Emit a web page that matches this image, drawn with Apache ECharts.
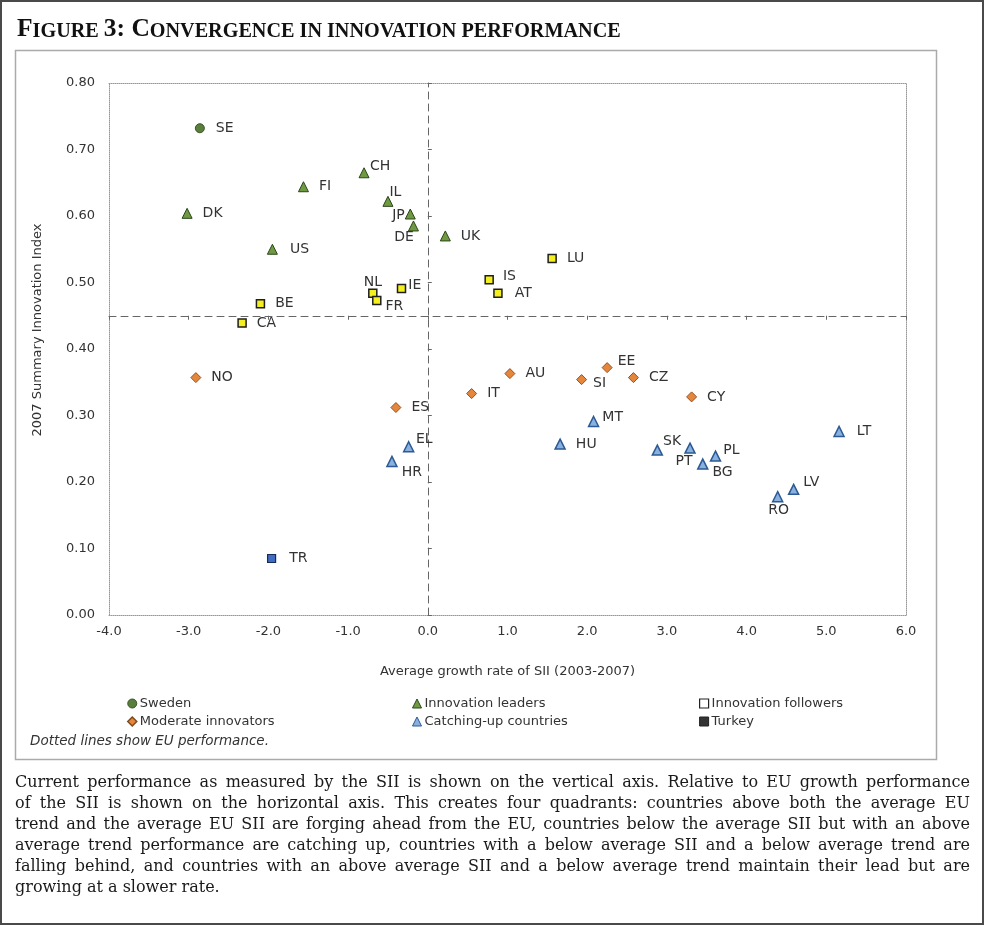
<!DOCTYPE html>
<html>
<head>
<meta charset="utf-8">
<script src="https://cdn.jsdelivr.net/npm/echarts@6/dist/echarts.min.js"></script>
<style>
html,body{margin:0;padding:0;background:#fff;}
#chart{width:984px;height:925px;}
</style>
</head>
<body>
<div id="chart"></div>
<script>
// ---------- DATA ----------
const xAxisName = 'Average growth rate of SII (2003-2007)';
const yAxisName = '2007 Summary Innovation Index';
const xTicks = [-4, -3, -2, -1, 0, 1, 2, 3, 4, 5, 6];
const yTicks = [0, 0.1, 0.2, 0.3, 0.4, 0.5, 0.6, 0.7, 0.8];
const euGrowth = 0.0;
const euSII = 0.45;

const swedenNames = ['SE'];
const swedenGrowth = [-2.86];
const swedenSII = [0.732];

const leaderNames = ['DK', 'FI', 'CH', 'IL', 'JP', 'DE', 'US', 'UK'];
const leaderGrowth = [-3.02, -1.56, -0.80, -0.50, -0.22, -0.18, -1.95, 0.22];
const leaderSII = [0.604, 0.644, 0.665, 0.622, 0.603, 0.585, 0.550, 0.570];

const followerNames = ['NL', 'FR', 'IE', 'BE', 'CA', 'LU', 'IS', 'AT'];
const followerGrowth = [-0.69, -0.64, -0.33, -2.10, -2.33, 1.56, 0.77, 0.88];
const followerSII = [0.484, 0.473, 0.491, 0.468, 0.439, 0.536, 0.504, 0.484];

const moderateNames = ['NO', 'ES', 'IT', 'AU', 'SI', 'EE', 'CZ', 'CY'];
const moderateGrowth = [-2.91, -0.40, 0.55, 1.03, 1.93, 2.25, 2.58, 3.31];
const moderateSII = [0.357, 0.312, 0.333, 0.363, 0.354, 0.372, 0.357, 0.328];

const catchingNames = ['EL', 'HR', 'MT', 'HU', 'SK', 'PT', 'BG', 'PL', 'LT', 'LV', 'RO'];
const catchingGrowth = [-0.24, -0.45, 2.08, 1.66, 2.88, 3.29, 3.45, 3.61, 5.16, 4.59, 4.39];
const catchingSII = [0.253, 0.231, 0.291, 0.257, 0.248, 0.251, 0.227, 0.239, 0.276, 0.189, 0.178];

const turkeyNames = ['TR'];
const turkeyGrowth = [-1.96];
const turkeySII = [0.085];

const legendNames = ['Sweden', 'Moderate innovators', 'Innovation leaders', 'Catching-up countries', 'Innovation followers', 'Turkey'];

const noteText = 'Dotted lines show EU performance.';
const paragraphLines = [
  'Current performance as measured by the SII is shown on the vertical axis. Relative to EU growth performance',
  'of the SII is shown on the horizontal axis. This creates four quadrants: countries above both the average EU',
  'trend and the average EU SII are forging ahead from the EU, countries below the average SII but with an above',
  'average trend performance are catching up, countries with a below average SII and a below average trend are',
  'falling behind, and countries with an above average SII and a below average trend maintain their lead but are',
  'growing at a slower rate.'
];

// ---------- STYLE ----------
const SANS = '"DejaVu Sans", "Liberation Sans", Arial, sans-serif';
const SERIF = '"DejaVu Serif", "Liberation Serif", serif';
const TXT = '#333';

// per-label placement tweaks (style only)
const labelTweaks = {
  CH: {distance: 0.5, offset: [0, -6]},
  IL: {distance: 0, offset: [-4, -9]},
  JP: {position: 'left', distance: 0, offset: [0, 1]},
  DE: {position: 'left', distance: 0, offset: [6, 11]},
  NL: {position: 'top', distance: 0, offset: [0, 1]},
  FR: {distance: 4, offset: [0, 6]},
  IE: {distance: 2, offset: [0, -3]},
  IS: {distance: 9, offset: [0, -3]},
  AT: {distance: 12, offset: [0, 0]},
  SI: {distance: 6, offset: [0, 4]},
  EE: {distance: 5, offset: [0, -6]},
  EL: {distance: 1.5, offset: [0, -7]},
  HR: {distance: 4, offset: [0, 11]},
  MT: {distance: 3, offset: [0, -4]},
  SK: {distance: 0, offset: [0, -9]},
  PT: {position: 'bottom', distance: 1, offset: [-6, 0]},
  BG: {distance: 4, offset: [0, 8]},
  PL: {distance: 2, offset: [0, -6]},
  LV: {distance: 4, offset: [0, -7]},
  RO: {position: 'bottom', distance: 1, offset: [1, 0]},
  TR: {distance: 13},
  SE: {distance: 11},
  US: {distance: 12},
  LT: {distance: 12}
};

function buildData(names, xs, ys) {
  return names.map((n, i) => {
    const t = labelTweaks[n] || {};
    return {
      name: n,
      value: [xs[i], ys[i]],
      label: {
        position: t.position || 'right',
        distance: t.distance !== undefined ? t.distance : 10,
        offset: t.offset || [0, 0]
      }
    };
  });
}

const baseLabel = {
  show: true,
  formatter: p => p.name,
  fontFamily: SANS,
  fontSize: 14,
  color: TXT
};

function scatter(name, names, xs, ys, symbol, size, fill, border, bw) {
  return {
    name: name,
    type: 'scatter',
    xAxisIndex: 0,
    yAxisIndex: 0,
    symbol: symbol,
    symbolSize: size,
    itemStyle: {color: fill, borderColor: border, borderWidth: bw, opacity: 1},
    label: baseLabel,
    emphasis: {disabled: true},
    data: buildData(names, xs, ys),
    z: 5
  };
}

const series = [
  scatter('Sweden', swedenNames, swedenGrowth, swedenSII, 'circle', 9, '#5a7f3c', '#3a5526', 1),
  scatter('Innovation leaders', leaderNames, leaderGrowth, leaderSII, 'triangle', 10, '#6f9a42', '#2c461a', 1),
  scatter('Innovation followers', followerNames, followerGrowth, followerSII, 'rect', 8, '#f4ef1e', '#1e1e1e', 1.5),
  scatter('Moderate innovators', moderateNames, moderateGrowth, moderateSII, 'diamond', 10, '#e4873c', '#99501e', 1),
  scatter('Catching-up countries', catchingNames, catchingGrowth, catchingSII, 'triangle', 10, '#88b1e0', '#2c5994', 1.5),
  scatter('Turkey', turkeyNames, turkeyGrowth, turkeySII, 'rect', 8, '#3e6dc4', '#1a2a55', 1.2)
];

const euLine = {show: true, onZero: false, lineStyle: {color: '#666', width: 1, type: [7, 5]}};
const xMin = xTicks[0], xMax = xTicks[xTicks.length - 1];
const yMin = yTicks[0], yMax = yTicks[yTicks.length - 1];

function legendCol(left, names, styles) {
  return {
    orient: 'vertical',
    left: left,
    top: 692,
    itemGap: 5,
    itemWidth: 9,
    itemHeight: 9,
    selectedMode: false,
    textStyle: {fontFamily: SANS, fontSize: 13, color: TXT, padding: [0, 0, 0, -2]},
    data: names.map((n, i) => ({name: n, itemStyle: styles[i]}))
  };
}

// ---------- GRAPHIC (frames, notes, paragraph) ----------
const graphics = [];
graphics.push({type: 'rect', shape: {x: 1, y: 1, width: 982, height: 923}, style: {fill: 'none', stroke: '#4a4a4a', lineWidth: 2}, silent: true});
graphics.push({type: 'rect', shape: {x: 15.5, y: 50.5, width: 921, height: 709}, style: {fill: 'none', stroke: '#aaa', lineWidth: 1.5}, silent: true});
graphics.push({type: 'text', x: 38, y: 330, rotation: Math.PI / 2,
  style: {text: yAxisName, font: '13px ' + SANS, fill: TXT, align: 'center', verticalAlign: 'middle', textAlign: 'center', textVerticalAlign: 'middle'}, silent: true});
graphics.push({type: 'text', x: 30, y: 741,
  style: {text: noteText, font: 'italic 13.5px ' + SANS, fill: TXT, verticalAlign: 'middle', textVerticalAlign: 'middle'}, silent: true});

// justified paragraph
(function () {
  const font = '16px ' + SERIF;
  const ctx = document.createElement('canvas').getContext('2d');
  ctx.font = font;
  const left = 15, right = 970, top0 = 775, lh = 21;
  paragraphLines.forEach((line, li) => {
    const words = line.split(' ');
    const widths = words.map(w => ctx.measureText(w).width);
    const sum = widths.reduce((a, b) => a + b, 0);
    const last = li === paragraphLines.length - 1;
    const gap = last ? ctx.measureText(' ').width : (right - left - sum) / (words.length - 1);
    let x = left;
    words.forEach((w, wi) => {
      graphics.push({type: 'text', x: x, y: top0 + li * lh,
        style: {text: w, font: font, fill: '#1a1a1a'}, silent: true});
      x += widths[wi] + gap;
    });
  });
})();

const option = {
  backgroundColor: '#fff',
  animation: false,
  title: {
    left: 12,
    top: 7,
    text: '{a|F}{b|IGURE} {a|3: C}{b|ONVERGENCE IN INNOVATION PERFORMANCE}',
    textStyle: {
      rich: {
        a: {fontFamily: '"Liberation Serif", serif', fontWeight: 'bold', fontSize: 25.5, color: '#111', verticalAlign: 'bottom', lineHeight: 30},
        b: {fontFamily: '"Liberation Serif", serif', fontWeight: 'bold', fontSize: 20.2, color: '#111', verticalAlign: 'bottom', lineHeight: 30}
      }
    }
  },
  grid: {left: 109, right: 78, top: 83, bottom: 310, containLabel: false},
  xAxis: [
    {
      type: 'value', min: xMin, max: xMax, interval: 1, position: 'bottom',
      axisLine: {show: true, onZero: false, lineStyle: {color: '#999', width: 1, type: 'dotted'}},
      axisTick: {show: false}, splitLine: {show: false},
      axisLabel: {formatter: v => v.toFixed(1), fontFamily: SANS, fontSize: 13, color: TXT, margin: 10},
      name: xAxisName, nameLocation: 'middle', nameGap: 50,
      nameTextStyle: {fontFamily: SANS, fontSize: 13, color: TXT}
    },
    {
      type: 'value', min: xMin, max: xMax, interval: 1, position: 'top',
      axisLine: {show: true, onZero: false, lineStyle: {color: '#999', width: 1, type: 'dotted'}},
      axisTick: {show: false}, axisLabel: {show: false}, splitLine: {show: false}
    },
    {
      type: 'value', min: xMin, max: xMax, interval: 1, position: 'bottom', offset: 0,
      axisLine: euLine,
      axisTick: {show: true, inside: false, length: 4, lineStyle: {color: '#666'}},
      axisLabel: {show: false}, splitLine: {show: false}, z: 3
    }
  ],
  yAxis: [
    {
      type: 'value', min: yMin, max: yMax, interval: 0.1, position: 'left',
      axisLine: {show: true, onZero: false, lineStyle: {color: '#999', width: 1, type: 'dotted'}},
      axisTick: {show: false}, splitLine: {show: false},
      axisLabel: {formatter: v => v.toFixed(2), fontFamily: SANS, fontSize: 13, color: TXT, margin: 14}
    },
    {
      type: 'value', min: yMin, max: yMax, interval: 0.1, position: 'right',
      axisLine: {show: true, onZero: false, lineStyle: {color: '#999', width: 1, type: 'dotted'}},
      axisTick: {show: false}, axisLabel: {show: false}, splitLine: {show: false}
    },
    {
      type: 'value', min: yMin, max: yMax, interval: 0.1, position: 'left',
      axisLine: {show: true, onZero: true, onZeroAxisIndex: 0, lineStyle: {color: '#666', width: 1, type: [7, 5]}},
      axisTick: {show: true, inside: true, length: 4, lineStyle: {color: '#666'}},
      axisLabel: {show: false}, splitLine: {show: false}, z: 3
    }
  ],
  legend: [
    legendCol(122, [legendNames[0], legendNames[1]], [
      {color: '#5a7f3c', borderColor: '#3a5526', borderWidth: 1},
      {color: '#e4873c', borderColor: '#7a4a22', borderWidth: 1.5}
    ]),
    legendCol(407, [legendNames[2], legendNames[3]], [
      {color: '#6f9a42', borderColor: '#2c461a', borderWidth: 1},
      {color: '#88b1e0', borderColor: '#2c5994', borderWidth: 1}
    ]),
    legendCol(694, [legendNames[4], legendNames[5]], [
      {color: '#ffffff', borderColor: '#222', borderWidth: 1.2},
      {color: '#333', borderColor: '#222', borderWidth: 1}
    ])
  ],
  series: series,
  graphic: graphics
};

const chart = echarts.init(document.getElementById('chart'), null, {renderer: 'canvas'});
chart.setOption(option);

// move the EU trend axis to the EU SII level using the library's own scale
const pEU = chart.convertToPixel({xAxisIndex: 0, yAxisIndex: 0}, [euGrowth, euSII]);
const pBase = chart.convertToPixel({xAxisIndex: 0, yAxisIndex: 0}, [euGrowth, yMin]);
chart.setOption({xAxis: [{}, {}, {offset: pEU[1] - pBase[1]}]});
</script>
</body>
</html>
